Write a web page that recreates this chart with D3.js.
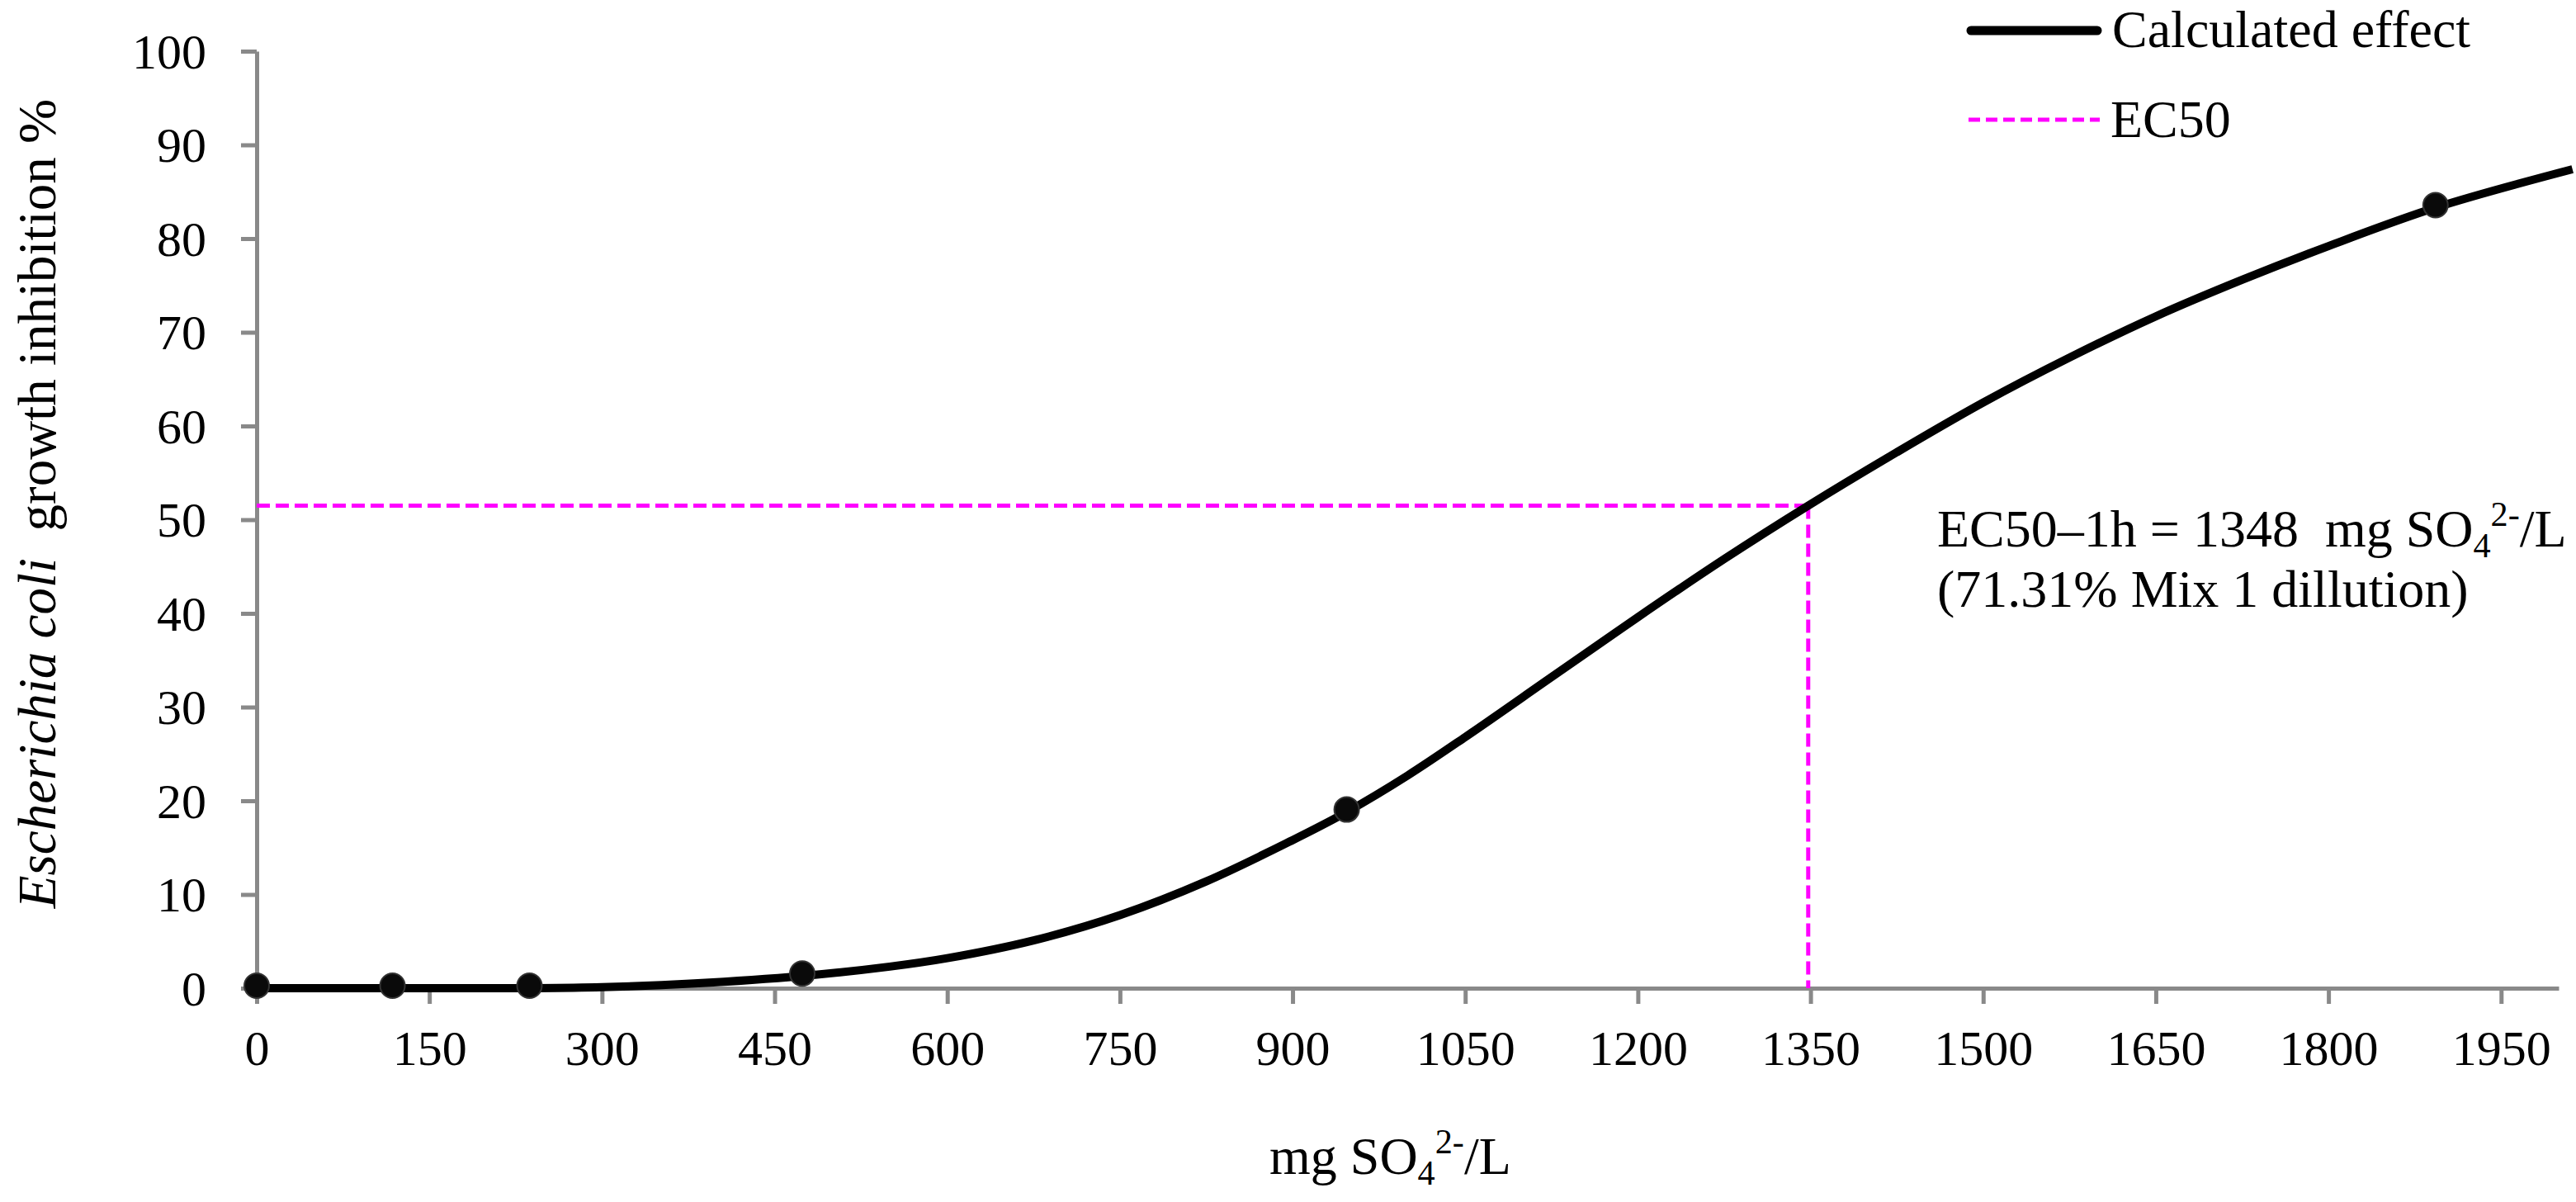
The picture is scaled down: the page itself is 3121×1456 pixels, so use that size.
<!DOCTYPE html>
<html>
<head>
<meta charset="utf-8">
<script src="https://cdn.jsdelivr.net/npm/d3@7/dist/d3.min.js"></script>
<style>
  html, body { margin: 0; padding: 0; background: #fff; }
  svg { display: block; }
  text { font-family: "Liberation Serif", "Times New Roman", serif; fill: #000; }
</style>
</head>
<body>
<svg id="chart" width="3121" height="1456"></svg>
<script>
// ---- data ----
const xTicks = [0, 150, 300, 450, 600, 750, 900, 1050, 1200, 1350, 1500, 1650, 1800, 1950];
const yTicks = [0, 10, 20, 30, 40, 50, 60, 70, 80, 90, 100];

// measured points (mg SO4 2-/L, inhibition %)
const pointX = [0, 118, 237, 474, 947, 1893];
const pointY = [0, 0, 0, 1.3, 18.8, 83.3];

// calculated effect curve
const curveX = [0, 118, 237, 300, 380, 474, 550, 600, 675, 750, 825, 900, 947, 1000, 1050, 1125, 1200, 1275, 1348, 1425, 1500, 1575, 1650, 1725, 1800, 1893, 2012];
const curveY = [0, 0, 0, 0.1, 0.5, 1.3, 2.3, 3.2, 5.1, 7.8, 11.4, 15.8, 18.8, 22.7, 26.8, 33.2, 39.6, 45.8, 51.5, 57.2, 62.5, 67.3, 71.7, 75.6, 79.2, 83.3, 87.4];

// EC50 marker
const ec50X = 1348;
const ec50Y = 51.5;

const legendLabels = ["Calculated effect", "EC50"];
const xTitleParts = ["mg SO", "4", "2-", "/L"];
const yTitleItalic = "Escherichia coli";
const yTitleRest = "  growth inhibition %";
const noteLine1 = ["EC50\u20131h = 1348  mg SO", "4", "2-", "/L"];
const noteLine2 = "(71.31% Mix 1 dillution)";

// ---- drawing ----
const svg = d3.select("#chart");
const FS = 60;     // tick labels
const FT = 64;     // titles, legend, note
const axisColor = "#898989";
const magenta = "#FF00FF";

const x = d3.scaleLinear().domain([0, 2000]).range([311, 3100]);
const y = d3.scaleLinear().domain([0, 100]).range([1197, 62]);

// axes
const gx = svg.append("g").attr("transform", `translate(0,${y(0)})`)
  .call(d3.axisBottom(x).tickValues(xTicks).tickSize(19).tickSizeOuter(0).tickFormat(d3.format("d")));
const gy = svg.append("g").attr("transform", `translate(${x(0)},0)`)
  .call(d3.axisLeft(y).tickValues(yTicks).tickSize(19).tickSizeOuter(0).tickFormat(d3.format("d")));

[gx, gy].forEach(g => {
  g.select(".domain").attr("stroke", axisColor).attr("stroke-width", 5);
  g.selectAll(".tick line").attr("stroke", axisColor).attr("stroke-width", 5);
  g.selectAll(".tick text").attr("font-size", FS)
    .attr("font-family", "'Liberation Serif', 'Times New Roman', serif").attr("fill", "#000");
});
gx.selectAll(".tick text").attr("y", 93).attr("dy", 0);
gy.selectAll(".tick text").attr("x", -61).attr("dy", "0.34em");

// EC50 dashed guide lines
svg.append("line")
  .attr("x1", x(0)).attr("x2", x(ec50X)).attr("y1", y(ec50Y)).attr("y2", y(ec50Y))
  .attr("stroke", magenta).attr("stroke-width", 5).attr("stroke-dasharray", "16,7");
svg.append("line")
  .attr("x1", x(ec50X)).attr("x2", x(ec50X)).attr("y1", y(ec50Y)).attr("y2", y(0))
  .attr("stroke", magenta).attr("stroke-width", 5).attr("stroke-dasharray", "16,7");

// curve
const curveData = curveX.map((v, i) => [v, curveY[i]]);
svg.append("path")
  .datum(curveData)
  .attr("fill", "none").attr("stroke", "#000").attr("stroke-width", 10)
  .attr("stroke-linejoin", "round")
  .attr("d", d3.line().x(d => x(d[0])).y(d => y(d[1])).curve(d3.curveCatmullRom.alpha(0.5)));

// points
const pts = pointX.map((v, i) => [v, pointY[i]]);
svg.selectAll("circle.pt").data(pts).enter().append("circle")
  .attr("class", "pt")
  .attr("cx", d => x(d[0])).attr("cy", d => y(d[1]) - 3)
  .attr("r", 15).attr("fill", "#0a0a0a").attr("stroke", "#333").attr("stroke-width", 2);

// legend
svg.append("line").attr("x1", 2388).attr("x2", 2541).attr("y1", 37).attr("y2", 37)
  .attr("stroke", "#000").attr("stroke-width", 11).attr("stroke-linecap", "round");
svg.append("text").attr("x", 2559).attr("y", 57).attr("font-size", FT).text(legendLabels[0]);
svg.append("line").attr("x1", 2385).attr("x2", 2544).attr("y1", 145).attr("y2", 145)
  .attr("stroke", magenta).attr("stroke-width", 5).attr("stroke-dasharray", "14,7");
svg.append("text").attr("x", 2557).attr("y", 166).attr("font-size", FT).text(legendLabels[1]);

// helper for chemical formula text
function chem(sel, parts, fs) {
  sel.append("tspan").text(parts[0]);
  sel.append("tspan").attr("font-size", fs * 0.66).attr("dy", 13).text(parts[1]);
  sel.append("tspan").attr("font-size", fs * 0.66).attr("dy", -38).text(parts[2]);
  sel.append("tspan").attr("dy", 25).text(parts[3]);
}

// annotation
const n1 = svg.append("text").attr("x", 2347).attr("y", 662).attr("font-size", FT)
  .style("white-space", "pre");
chem(n1, noteLine1, FT);
svg.append("text").attr("x", 2347).attr("y", 735).attr("font-size", FT).text(noteLine2);

// x title
const xt = svg.append("text").attr("x", 1538).attr("y", 1422).attr("font-size", FT);
chem(xt, xTitleParts, FT);

// y title
const yt = svg.append("text")
  .attr("transform", "translate(67,610) rotate(-90)")
  .attr("text-anchor", "middle").attr("font-size", 65)
  .style("white-space", "pre");
yt.append("tspan").attr("font-style", "italic").text(yTitleItalic);
yt.append("tspan").text(yTitleRest);
</script>
</body>
</html>
